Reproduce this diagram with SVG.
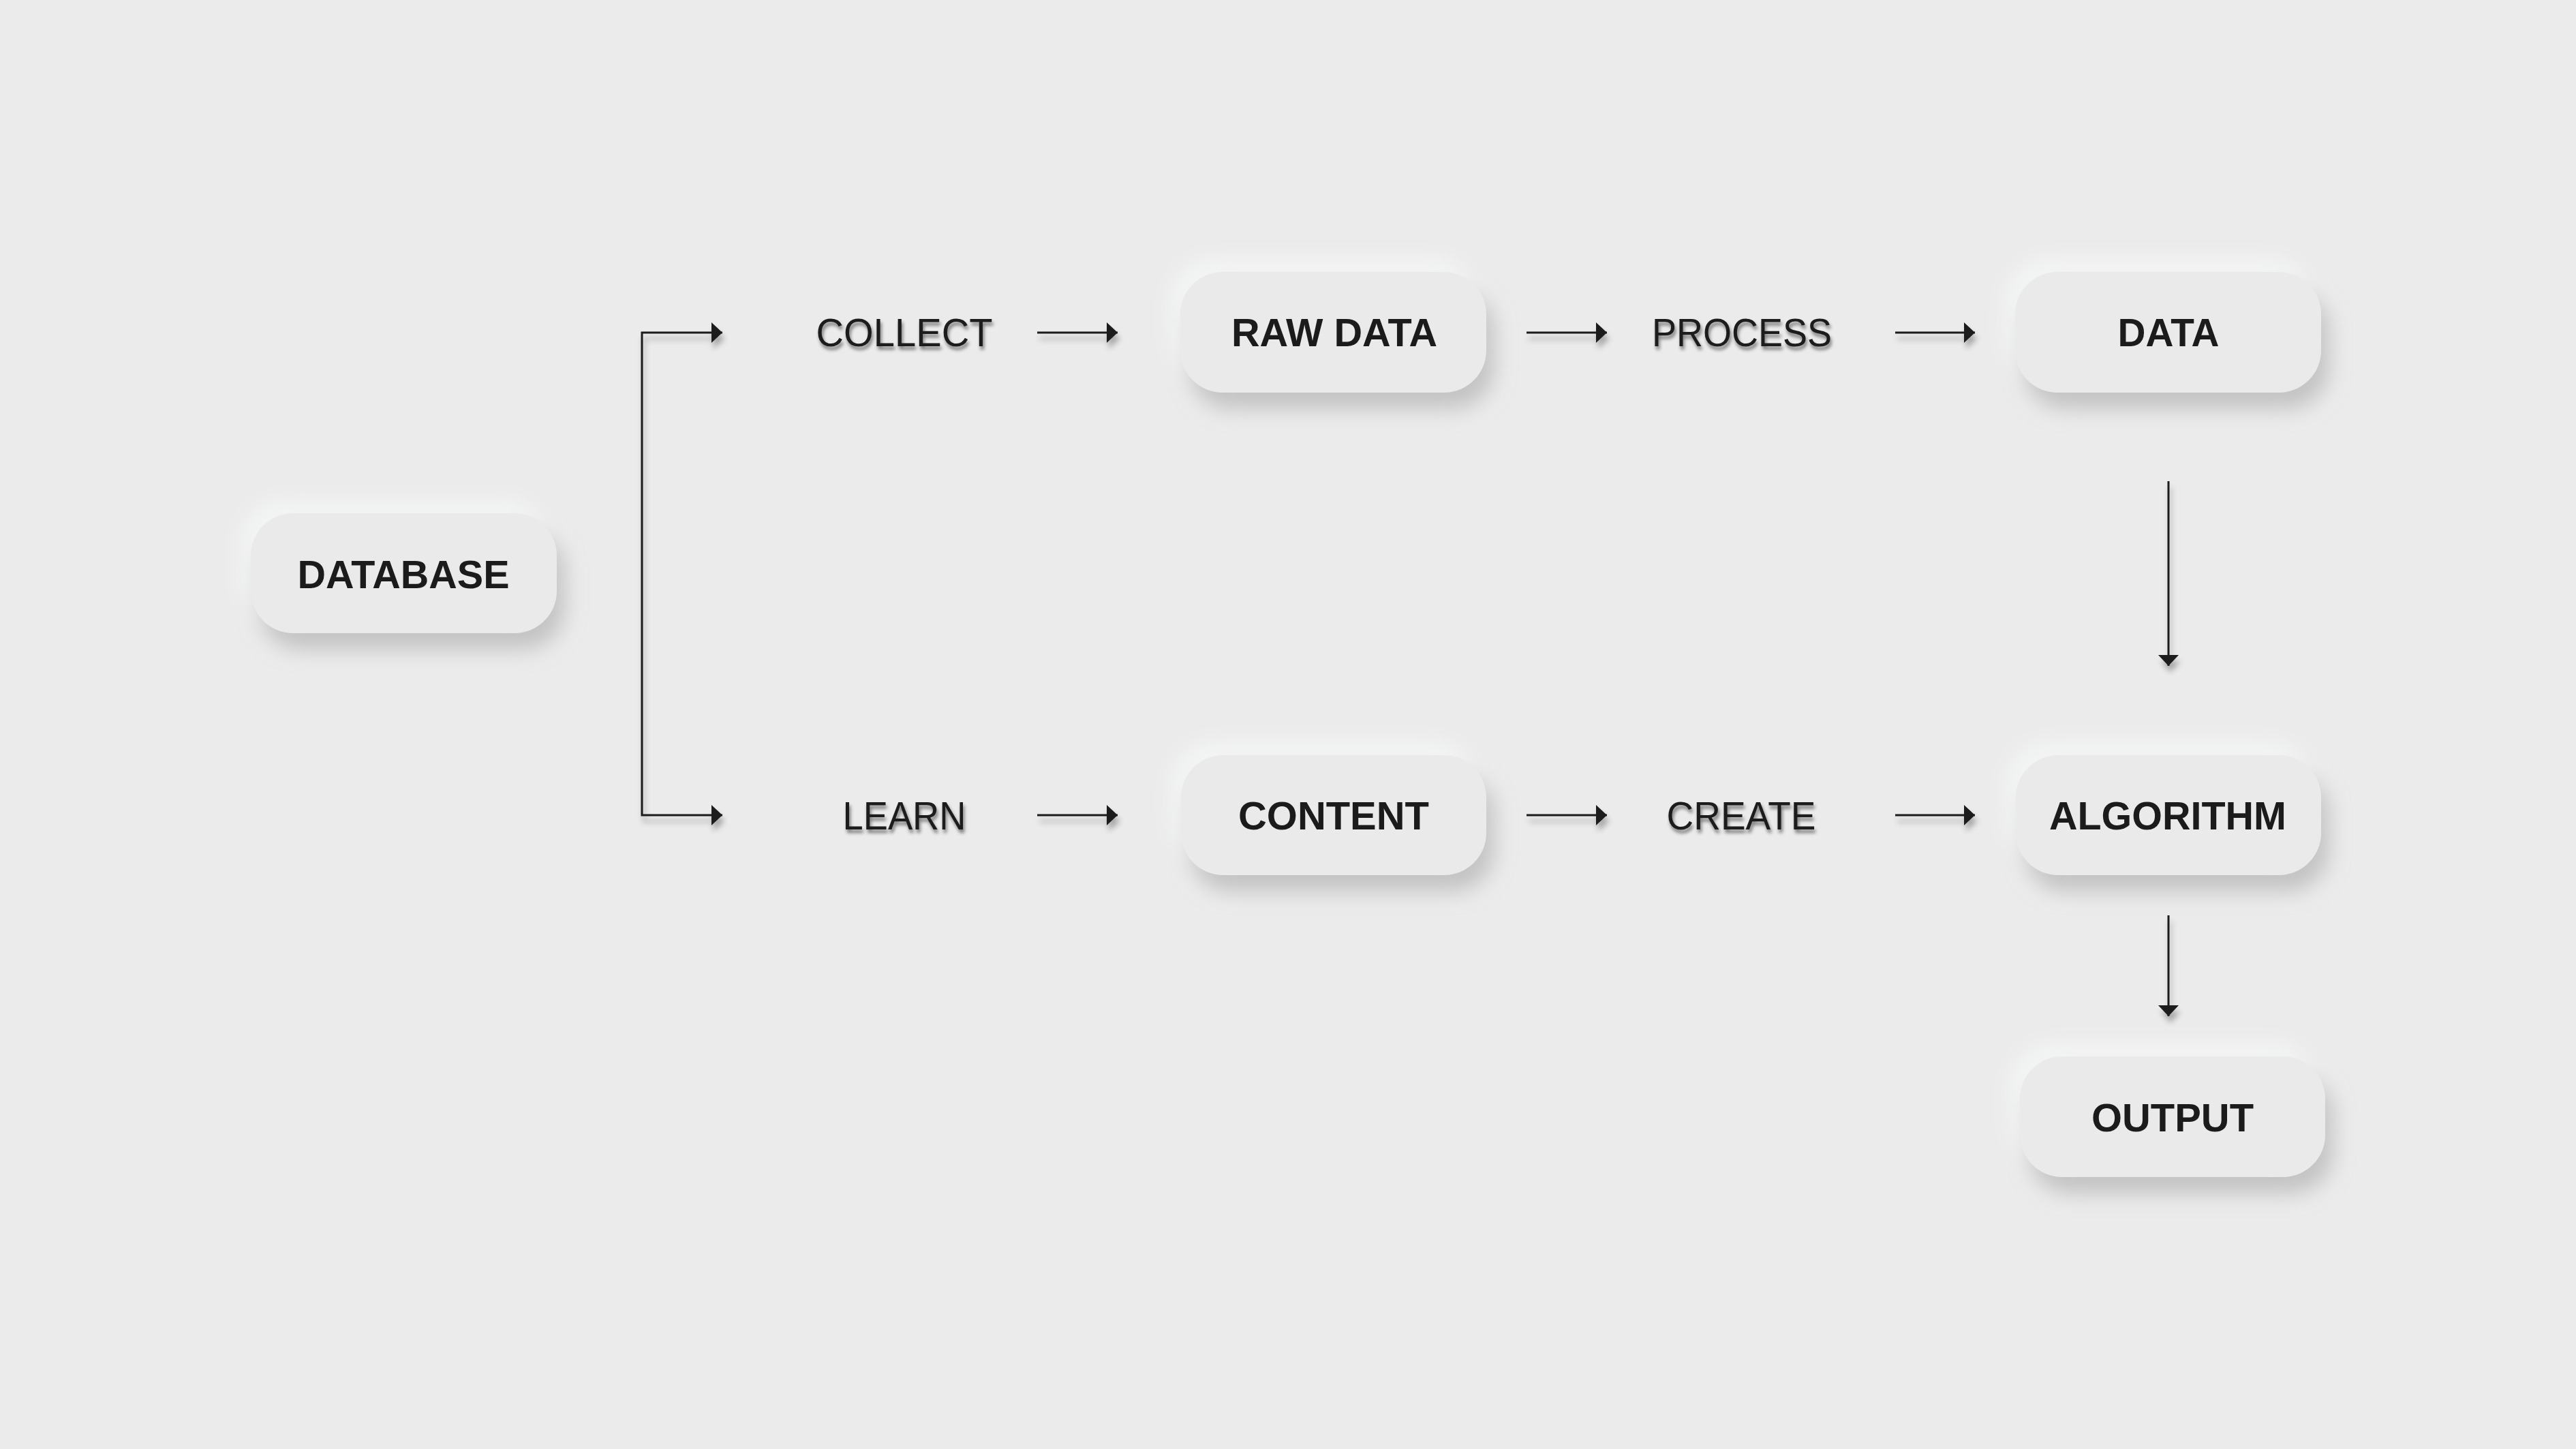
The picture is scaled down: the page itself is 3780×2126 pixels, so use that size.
<svg xmlns="http://www.w3.org/2000/svg" width="3780" height="2126" viewBox="0 0 3780 2126">
<style>
.box{fill:#eaeaea;filter:url(#neu)}
.lbl{font-family:"Liberation Sans",Arial,sans-serif;font-weight:bold;font-size:58px;fill:#1b1b1b;text-anchor:middle}
.verb{font-family:"Liberation Sans",Arial,sans-serif;font-size:58px;fill:#1b1b1b;text-anchor:middle;filter:url(#ts)}
.con{fill:none;stroke:#1b1b1b;stroke-width:3;marker-end:url(#ah)}
</style>
<defs>
<filter id="neu" x="-30%" y="-60%" width="160%" height="220%">
<feGaussianBlur in="SourceAlpha" stdDeviation="15" result="b"/>
<feOffset in="b" dx="12" dy="24" result="o1"/>
<feFlood flood-color="#b6b6b6" flood-opacity="0.75"/>
<feComposite in2="o1" operator="in" result="dark"/>
<feOffset in="b" dx="-14" dy="-18" result="o2"/>
<feFlood flood-color="#f4f5f5"/>
<feComposite in2="o2" operator="in" result="light"/>
<feMerge><feMergeNode in="light"/><feMergeNode in="dark"/><feMergeNode in="SourceGraphic"/></feMerge>
</filter>
<filter id="ts" x="-20%" y="-50%" width="140%" height="200%">
<feGaussianBlur in="SourceAlpha" stdDeviation="2.5"/>
<feOffset dx="2" dy="5"/>
<feComponentTransfer><feFuncA type="linear" slope="0.5"/></feComponentTransfer>
<feMerge><feMergeNode/><feMergeNode in="SourceGraphic"/></feMerge>
</filter>
<filter id="as" x="-20%" y="-50%" width="140%" height="200%">
<feGaussianBlur in="SourceAlpha" stdDeviation="4"/>
<feOffset dx="3" dy="9"/>
<feComponentTransfer><feFuncA type="linear" slope="0.3"/></feComponentTransfer>
<feMerge><feMergeNode/><feMergeNode in="SourceGraphic"/></feMerge>
</filter>
<marker id="ah" viewBox="0 0 16 30" refX="16" refY="15" markerWidth="16" markerHeight="30" markerUnits="userSpaceOnUse" orient="auto-start-reverse">
<path d="M0,0 L16,15 L0,30 Z" fill="#1b1b1b"/>
</marker>
</defs>
<rect width="3780" height="2126" fill="#ebebeb"/>

<g id="connectors" filter="url(#as)">
<path class="con" d="M1060,488 H942 V1196 H1060" marker-start="url(#ah)"/>
<path class="con" d="M1522,488 H1640"/>
<path class="con" d="M2240,488 H2358"/>
<path class="con" d="M2781,488 H2898"/>
<path class="con" d="M1522,1196 H1640"/>
<path class="con" d="M2240,1196 H2358"/>
<path class="con" d="M2781,1196 H2898"/>
<path class="con" d="M3182,706 V977"/>
<path class="con" d="M3182,1343 V1491"/>
</g>

<g id="database"><rect class="box" x="368" y="753" width="449" height="176" rx="62"/><text class="lbl" x="592" y="863" textLength="311" lengthAdjust="spacingAndGlyphs">DATABASE</text></g>
<g id="collect"><text class="verb" x="1327" y="508" textLength="259" lengthAdjust="spacingAndGlyphs">COLLECT</text></g>
<g id="learn"><text class="verb" x="1327" y="1217" textLength="181" lengthAdjust="spacingAndGlyphs">LEARN</text></g>
<g id="rawdata"><rect class="box" x="1732" y="399" width="449" height="177" rx="62"/><text class="lbl" x="1958" y="508" textLength="302" lengthAdjust="spacingAndGlyphs">RAW DATA</text></g>
<g id="content"><rect class="box" x="1733" y="1108" width="448" height="176" rx="62"/><text class="lbl" x="1957" y="1217" textLength="280" lengthAdjust="spacingAndGlyphs">CONTENT</text></g>
<g id="process"><text class="verb" x="2556" y="508" textLength="264" lengthAdjust="spacingAndGlyphs">PROCESS</text></g>
<g id="create"><text class="verb" x="2555" y="1217" textLength="219" lengthAdjust="spacingAndGlyphs">CREATE</text></g>
<g id="data"><rect class="box" x="2957" y="399" width="449" height="177" rx="62"/><text class="lbl" x="3182" y="508" textLength="149" lengthAdjust="spacingAndGlyphs">DATA</text></g>
<g id="algorithm"><rect class="box" x="2958" y="1108" width="448" height="176" rx="62"/><text class="lbl" x="3181" y="1217" textLength="348" lengthAdjust="spacingAndGlyphs">ALGORITHM</text></g>
<g id="output"><rect class="box" x="2964" y="1550" width="448" height="177" rx="62"/><text class="lbl" x="3188" y="1660" textLength="238" lengthAdjust="spacingAndGlyphs">OUTPUT</text></g>
</svg>
